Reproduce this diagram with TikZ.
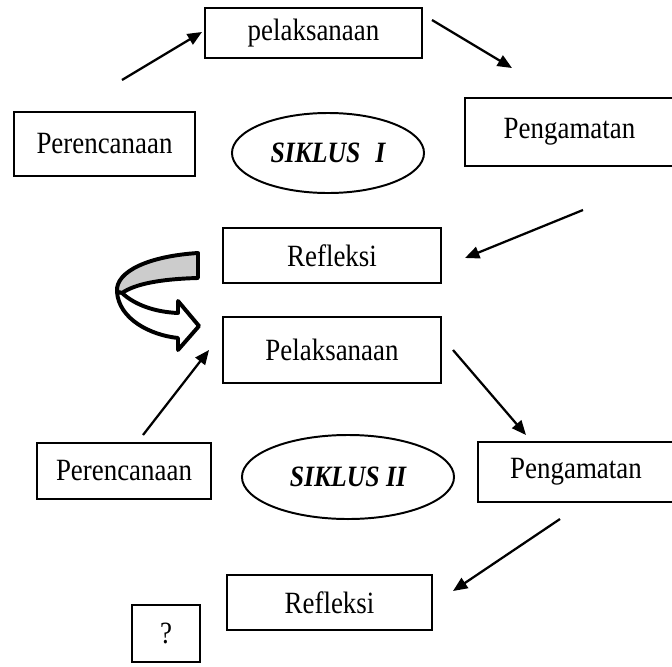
\documentclass[tikz,border=0pt]{standalone}
\usepackage{fontspec}
\setmainfont{Liberation Serif}
\usepackage{graphicx}
\usetikzlibrary{arrows.meta,shapes.geometric}
\newcommand{\sempit}[1]{\scalebox{0.87}[1]{#1}}

\begin{document}
\begin{tikzpicture}[
    x=0.025cm, y=-0.025cm,
    kotak/.style={draw=black, line width=1.9pt, fill=white, inner sep=0pt, font=\fontsize{22}{26}\selectfont},
    elips/.style={ellipse, draw=black, line width=1.4pt, inner sep=0pt, font=\fontsize{21}{25}\selectfont\bfseries\itshape},
    panah/.style={-{Triangle[length=0.36cm, width=0.3cm]}, line width=1.6pt},
    lengkung/.style={draw=black, line width=2.8pt, line join=round}
]
    \useasboundingbox (0,0) rectangle (672,666);

    % 1. Siklus I
    \node[kotak, minimum width=5.425cm, minimum height=1.25cm] (pel1) at (313.5,33) {\sempit{pelaksanaan}};
    \node[kotak, minimum width=4.525cm, minimum height=1.6cm] (per1) at (104.5,144) {\sempit{Perencanaan}};
    \node[elips, minimum width=4.8cm, minimum height=2.0cm] (sik1) at (328,153) {\sempit{SIKLUS\,\, I}};
    \node[kotak, minimum width=5.225cm, minimum height=1.7cm] (peng1) at (569.5,132) {\sempit{Pengamatan}};
    \node[kotak, minimum width=5.45cm, minimum height=1.375cm] (ref1) at (332,255.5) {\sempit{Refleksi}};

    % 2. Siklus II
    \node[kotak, minimum width=5.45cm, minimum height=1.65cm] (pel2) at (332,350) {\sempit{Pelaksanaan}};
    \node[kotak, minimum width=4.35cm, minimum height=1.4cm] (per2) at (124,471) {\sempit{Perencanaan}};
    \node[elips, minimum width=5.3cm, minimum height=2.1cm] (sik2) at (348,477) {\sempit{SIKLUS II}};
    \node[kotak, minimum width=4.9cm, minimum height=1.5cm] (peng2) at (576,472) {\sempit{Pengamatan}};
    \node[kotak, minimum width=5.125cm, minimum height=1.375cm] (ref2) at (329.5,602.5) {\sempit{Refleksi}};
    \node[kotak, minimum width=1.7cm, minimum height=1.425cm] (tanya) at (166,633.5) {\sempit{?}};

    % 3. Ujung panah
    \coordinate (a1) at (122,80);   \coordinate (b1) at (202,32);
    \coordinate (a2) at (432,20);   \coordinate (b2) at (512,68);
    \coordinate (a3) at (583,210);  \coordinate (b3) at (465,258);
    \coordinate (a4) at (143,435);  \coordinate (b4) at (209,350);
    \coordinate (a5) at (453,350);  \coordinate (b5) at (526,435);
    \coordinate (a6) at (560,519);  \coordinate (b6) at (453,591);

    \draw[panah] (a1) -- (b1);
    \draw[panah] (a2) -- (b2);
    \draw[panah] (a3) -- (b3);
    \draw[panah] (a4) -- (b4);
    \draw[panah] (a5) -- (b5);
    \draw[panah] (a6) -- (b6);

    % 4. Panah lengkung dari Refleksi ke Pelaksanaan
    \draw[lengkung, fill=gray!40] (198,253) .. controls (150,256) and (115,271) .. (117,292)
        -- (122,293) .. controls (135,284) and (160,279) .. (198,278) -- cycle;
    \draw[lengkung, fill=white] (117,292) .. controls (119,319) and (150,335) .. (178,338)
        -- (178,350) -- (199,326) -- (178,301) -- (178,313)
        .. controls (155,312) and (135,305) .. (122,293) -- cycle;

\end{tikzpicture}
\end{document}
